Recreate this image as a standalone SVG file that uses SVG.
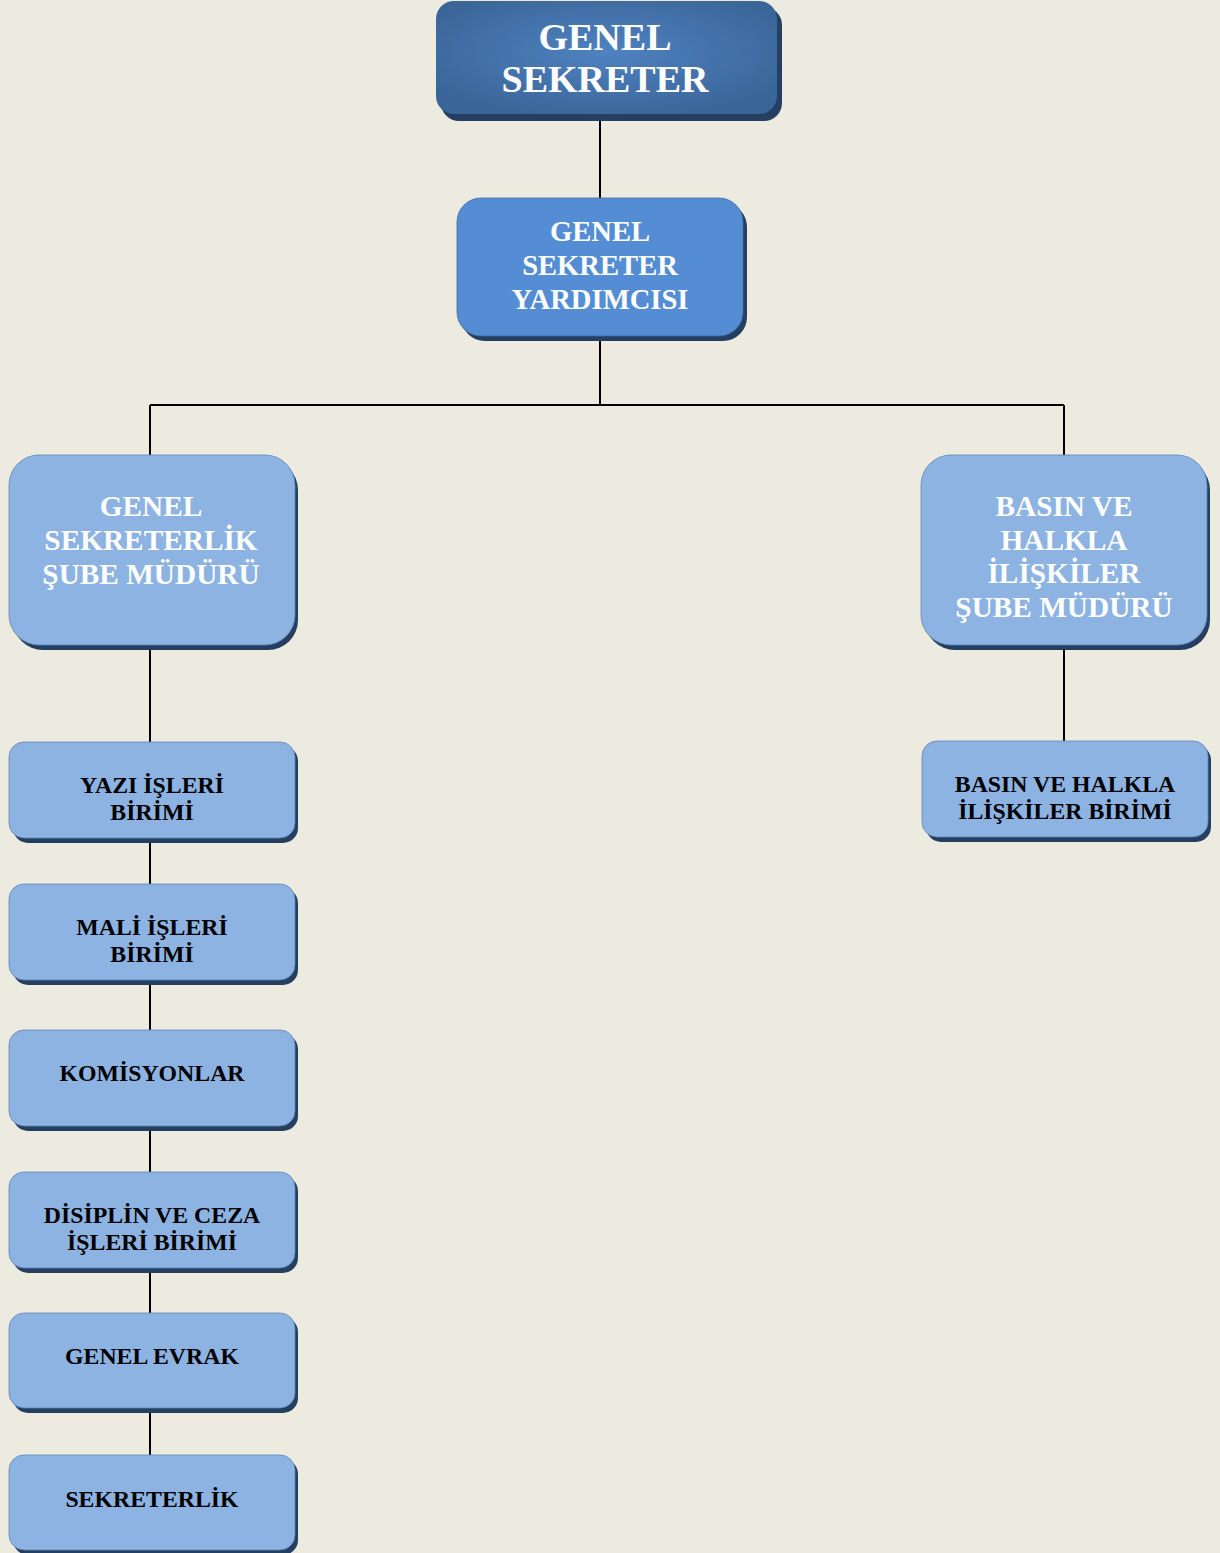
<svg xmlns="http://www.w3.org/2000/svg" width="1220" height="1553" viewBox="0 0 1220 1553">
<defs>
<radialGradient id="topg" cx="50%" cy="45%" r="60%">
<stop offset="0" stop-color="#4f82c0"/>
<stop offset="1" stop-color="#3a6598"/>
</radialGradient>
</defs>
<style>
.sh{fill:#243f60}
.l{fill:none;stroke:#000;stroke-width:2}
.w{font-family:"Liberation Serif","Times New Roman",serif;font-weight:bold;fill:#fff;text-anchor:middle}
.b{font-family:"Liberation Serif","Times New Roman",serif;font-weight:bold;fill:#000;text-anchor:middle;font-size:23.8px}
.lb{fill:#8db3e2;stroke:#5f85b8;stroke-width:0.8}
</style>
<rect width="1220" height="1553" fill="#edeae0"/>
<g id="connectors">
<path class="l" d="M600 116V198M600 338V405M150 405H1064M150 405V455M1064 405V455M150 645V742M150 838V884M150 980V1030M150 1126V1172M150 1268V1313M150 1408V1455M1064 645V741"/>
</g>
<g id="genel-sekreter">
<rect class="sh" x="441" y="7" width="341" height="114" rx="18"/>
<rect x="436" y="1" width="341" height="113" rx="18" fill="url(#topg)"/>
<text class="w" font-size="38" x="605" y="50">GENEL</text>
<text class="w" font-size="38" x="605" y="92">SEKRETER</text>
</g>
<g id="yardimci">
<rect class="sh" x="461" y="203" width="286" height="138" rx="24"/>
<rect x="457" y="198" width="286" height="138" rx="24" fill="#548dd4" stroke="#3f6ea8" stroke-width="0.8"/>
<text class="w" font-size="28.6" x="600" y="241">GENEL</text>
<text class="w" font-size="28.6" x="600" y="275">SEKRETER</text>
<text class="w" font-size="28.6" x="600" y="309">YARDIMCISI</text>
</g>
<g id="sekreterlik-sube">
<rect class="sh" x="13" y="460" width="285" height="190" rx="30"/>
<rect class="lb" x="9" y="455" width="286" height="190" rx="30"/>
<text class="w" font-size="29.3" x="151" y="516">GENEL</text>
<text class="w" font-size="29.3" x="151" y="550">SEKRETERLİK</text>
<text class="w" font-size="29.3" x="151" y="584">ŞUBE MÜDÜRÜ</text>
</g>
<g id="basin-sube">
<rect class="sh" x="925" y="460" width="285" height="190" rx="30"/>
<rect class="lb" x="921" y="455" width="286" height="190" rx="30"/>
<text class="w" font-size="29.3" x="1064" y="516">BASIN VE</text>
<text class="w" font-size="29.3" x="1064" y="550">HALKLA</text>
<text class="w" font-size="29.3" x="1064" y="583">İLİŞKİLER</text>
<text class="w" font-size="29.3" x="1064" y="617">ŞUBE MÜDÜRÜ</text>
</g>
<g id="yazi">
<rect class="sh" x="13" y="746" width="285" height="97" rx="15"/>
<rect class="lb" x="9" y="742" width="286" height="96" rx="15"/>
<text class="b" x="152" y="793">YAZI İŞLERİ</text>
<text class="b" x="152" y="820">BİRİMİ</text>
</g>
<g id="mali">
<rect class="sh" x="13" y="888" width="285" height="97" rx="15"/>
<rect class="lb" x="9" y="884" width="286" height="96" rx="15"/>
<text class="b" x="152" y="935">MALİ İŞLERİ</text>
<text class="b" x="152" y="962">BİRİMİ</text>
</g>
<g id="komisyonlar">
<rect class="sh" x="13" y="1034" width="285" height="97" rx="15"/>
<rect class="lb" x="9" y="1030" width="286" height="96" rx="15"/>
<text class="b" x="152" y="1081">KOMİSYONLAR</text>
</g>
<g id="disiplin">
<rect class="sh" x="13" y="1176" width="285" height="97" rx="15"/>
<rect class="lb" x="9" y="1172" width="286" height="96" rx="15"/>
<text class="b" x="152" y="1223">DİSİPLİN VE CEZA</text>
<text class="b" x="152" y="1250">İŞLERİ BİRİMİ</text>
</g>
<g id="genel-evrak">
<rect class="sh" x="13" y="1317" width="285" height="96" rx="15"/>
<rect class="lb" x="9" y="1313" width="286" height="95" rx="15"/>
<text class="b" x="152" y="1364">GENEL EVRAK</text>
</g>
<g id="sekreterlik">
<rect class="sh" x="13" y="1459" width="285" height="96" rx="15"/>
<rect class="lb" x="9" y="1455" width="286" height="95" rx="15"/>
<text class="b" x="152" y="1507">SEKRETERLİK</text>
</g>
<g id="basin-birim">
<rect class="sh" x="926" y="745" width="285" height="97" rx="15"/>
<rect class="lb" x="922" y="741" width="286" height="96" rx="15"/>
<text class="b" x="1065" y="792">BASIN VE HALKLA</text>
<text class="b" x="1065" y="819">İLİŞKİLER BİRİMİ</text>
</g>
</svg>
